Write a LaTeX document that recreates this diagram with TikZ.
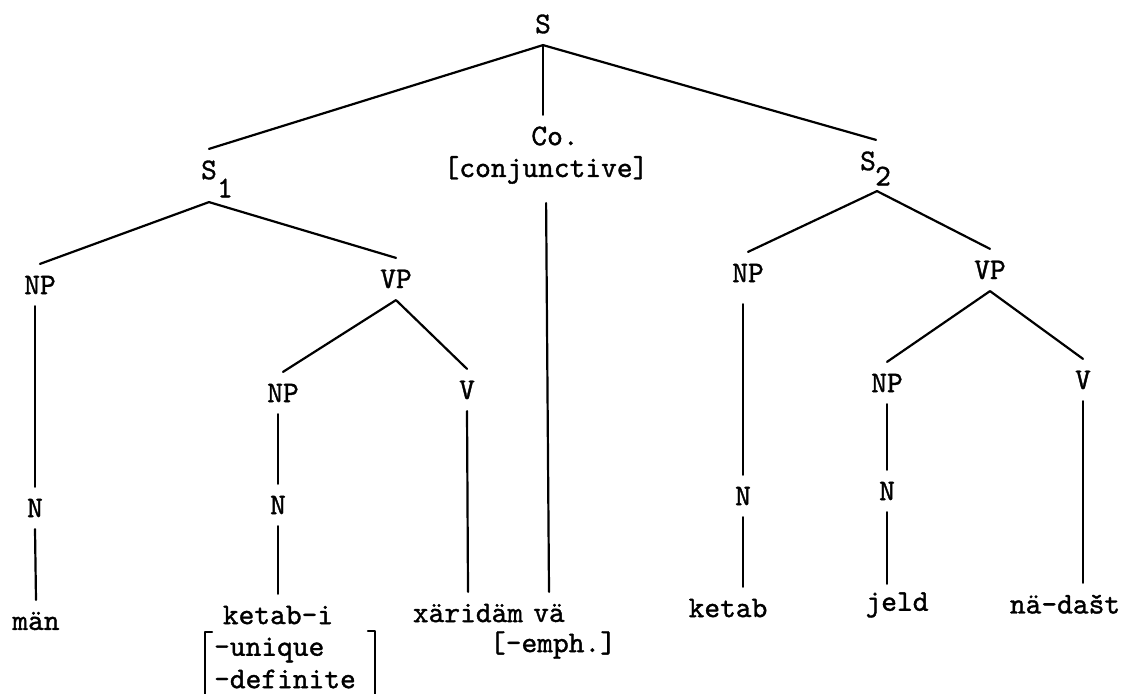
\documentclass[tikz,border=0pt]{standalone}
\usepackage{fontspec}
\newfontfamily\typewriter{lmmono10-regular.otf}[FakeBold=1.2]
\begin{document}
\begin{tikzpicture}[x=0.5pt, y=-0.5pt, line join=round, line cap=round, line width=1.1pt,
	lab/.style={font=\treefont, inner sep=0pt, minimum height=20pt},
	feat/.style={font=\treefont, inner sep=0pt, anchor=west}]
			\def\treefont{\fontsize{15}{10}\selectfont\typewriter}
			\useasboundingbox (0,0) rectangle (1122,694);
			\fill[white] (0,0) rectangle (1122,694);
			\node[lab] (s) at (543,24) {S};
			\node[lab] (co) at (555,136) {Co.};
			\node[lab] (conj) at (546,170) {[conjunctive]};
			\node[lab] (s1) at (209,170) {S};
			\node[lab] (s1i) at (225,188) {1};
			\node[lab] (s2) at (868,161) {S};
			\node[lab] (s2i) at (883,176) {2};
			\node[lab] (np1) at (40,285) {NP};
			\node[lab] (n1) at (35,508) {N};
			\node[lab] (man) at (36,621) {män};
			\node[lab] (vp1) at (396,279) {VP};
			\node[lab] (np2) at (283,393) {NP};
			\node[lab] (n2) at (278,505) {N};
			\node[lab] (ketabi) at (278,615) {ketab-i};
			\node[feat] (uniq) at (213,650) {-unique};
			\node[feat] (defin) at (213,679) {-definite};
			\node[lab] (v1) at (467,390) {V};
			\node[lab] (xar) at (468,613) {xäridäm};
			\node[lab] (vae) at (549,613) {vä};
			\node[lab] (emph) at (553,645) {[-emph.]};
			\node[lab] (np3) at (748,273) {NP};
			\node[lab] (n3) at (743,496) {N};
			\node[lab] (ketab) at (728,608) {ketab};
			\node[lab] (vp2) at (990,270) {VP};
			\node[lab] (np4) at (887,383) {NP};
			\node[lab] (n4) at (887,491) {N};
			\node[lab] (jeld) at (897,605) {jeld};
			\node[lab] (v2) at (1083,380) {V};
			\node[lab] (nadast) at (1065,604) {nä-dašt};
			\coordinate (s1j) at ([yshift=-5.5pt]s1.south);
			\coordinate (s2j) at ([shift={(4.5pt,-4.5pt)}]s2.south);
			\draw (s.south) -- (s1.north);
			\draw (s.south) -- ([xshift=4pt]s2.north);
			\draw (s.south) -- (s.south |- co.north);
			\draw[shorten <=6pt] (conj.south) -- (vae.north);
			\draw (s1j) -- (np1.north) (s1j) -- (vp1.north);
			\draw (n1 |- np1.south) -- (n1.north);
			\draw (n1.south) -- (man.north);
			\draw (vp1.south) -- (np2.north) (vp1.south) -- (v1.north);
			\draw (n2 |- np2.south) -- (n2.north);
			\draw (n2.south) -- (ketabi.north);
			\draw (v1.south) -- (xar.north);
			\draw (s2j) -- (np3.north) (s2j) -- (vp2.north);
			\draw[shorten <=5pt] (n3 |- np3.south) -- (n3.north);
			\draw (n3.south) -- (n3 |- ketab.north);
			\draw (vp2.south) -- (np4.north) (vp2.south) -- (v2.north);
			\draw (np4.south) -- (n4.north);
			\draw (n4.south) -- (n4 |- jeld.north);
			\draw (v2.south) -- (v2 |- nadast.north);
			\draw (212,632) -- (205,632) -- (205,700);
			\draw (368,631) -- (375,631) -- (375,700);
	\end{tikzpicture}
\end{document}
